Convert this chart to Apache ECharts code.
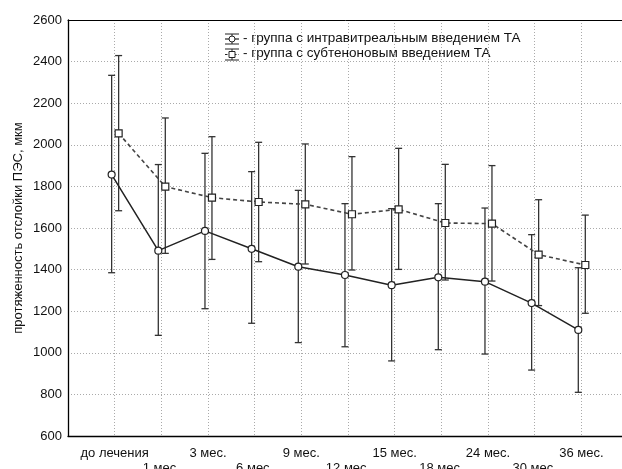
<!DOCTYPE html>
<html>
<head>
<meta charset="utf-8">
<script src="https://cdn.jsdelivr.net/npm/echarts@6/dist/echarts.min.js"></script>
<style>
html,body{margin:0;padding:0;background:#fff;}
#chart{width:622px;height:469px;}
</style>
</head>
<body>
<div id="chart"></div>
<script>
var categories = ['до лечения','1 мес.','3 мес.','6 мес.','9 мес.','12 мес.','15 мес.','18 мес.','24 мес.','30 мес.','36 мес.'];
var yTicks = [600, 800, 1000, 1200, 1400, 1600, 1800, 2000, 2200, 2400, 2600];

var intraMean  = [1857, 1491, 1586, 1500, 1414, 1374, 1325, 1363, 1342, 1239, 1110];
var intraUpper = [2334, 1905, 1959, 1871, 1781, 1717, 1693, 1717, 1696, 1568, 1409];
var intraLower = [1385, 1084, 1212, 1142, 1049, 1029,  961, 1015,  994,  917,  810];

var subMean  = [2055, 1799, 1746, 1725, 1714, 1666, 1690, 1624, 1621, 1472, 1422];
var subUpper = [2429, 2129, 2039, 2012, 2004, 1943, 1983, 1906, 1900, 1736, 1662];
var subLower = [1683, 1478, 1449, 1438, 1427, 1398, 1401, 1350, 1345, 1227, 1190];

var legendNames = ['- группа с интравитреальным введением ТА', '- группа с субтеноновым введением ТА'];
var yAxisTitle = 'протяженность отслойки ПЭС, мкм';

var OFF_A = -0.065, OFF_B = 0.085;
var FONT = 'Arial, "Liberation Sans", sans-serif';

function pts(arr, off){ return arr.map(function(v,i){ return [i+1+off, v]; }); }
function bars(lo, hi, off){ return lo.map(function(v,i){ return [i+1+off, v, hi[i]]; }); }

function errRender(params, api){
  var x = api.value(0);
  var p1 = api.coord([x, api.value(1)]);
  var p2 = api.coord([x, api.value(2)]);
  var w = 3.5;
  var st = {stroke:'#333', lineWidth:1.3};
  return {type:'group', children:[
    {type:'line', shape:{x1:p1[0],y1:p1[1],x2:p2[0],y2:p2[1]}, style:st},
    {type:'line', shape:{x1:p1[0]-w,y1:p1[1],x2:p1[0]+w,y2:p1[1]}, style:st},
    {type:'line', shape:{x1:p2[0]-w,y1:p2[1],x2:p2[0]+w,y2:p2[1]}, style:st}
  ]};
}

var chart = echarts.init(document.getElementById('chart'));
var gridStyle = {color:'#aaa', width:1, type:[1,2]};

var lx = 225;
function legendIcon(yTop, yMid, yBot, dashed, symbol){
  var st = {stroke:'#222', lineWidth:1};
  var ch = [
    {type:'line', shape:{x1:lx,y1:yTop,x2:lx+14,y2:yTop}, style:st},
    {type:'line', shape:{x1:lx,y1:yBot,x2:lx+14,y2:yBot}, style:st},
    {type:'line', shape:{x1:lx+7,y1:yTop,x2:lx+7,y2:yBot}, style:st},
    {type:'line', shape:{x1:lx,y1:yMid,x2:lx+14,y2:yMid}, style:{stroke:'#222',lineWidth:1.2, lineDash: dashed?[2.5,2]:null}}
  ];
  if(symbol==='circle') ch.push({type:'circle', shape:{cx:lx+7, cy:yMid, r:3}, style:{fill:'#fff', stroke:'#222', lineWidth:1}});
  else ch.push({type:'rect', shape:{x:lx+4, y:yMid-3, width:6, height:6}, style:{fill:'#fff', stroke:'#222', lineWidth:1}});
  return ch;
}

var option = {
  backgroundColor:'#fff',
  animation:false,
  grid:{left:68, top:20, width:560, height:416, outerBoundsMode:'none', containLabel:false},
  xAxis:[{
    type:'value', min:0, max:12, interval:1,
    axisLine:{show:true, lineStyle:{color:'#000', width:1.3}},
    axisTick:{show:false},
    splitLine:{show:true, lineStyle:gridStyle},
    axisLabel:{
      show:true, margin:10, lineHeight:15, fontSize:13, color:'#111', fontFamily:FONT,
      showMinLabel:true, showMaxLabel:false,
      formatter:function(v){
        var i = Math.round(v) - 1;
        if(i<0 || i>=categories.length) return '';
        return (i%2===0) ? categories[i] : '\n' + categories[i];
      }
    }
  },{
    type:'value', position:'top', min:0, max:12,
    axisLine:{show:true, onZero:false, lineStyle:{color:'#000', width:1}},
    axisTick:{show:false}, axisLabel:{show:false}, splitLine:{show:false}
  }],
  yAxis:{
    type:'value', min:yTicks[0], max:yTicks[yTicks.length-1], interval:200,
    name:yAxisTitle, nameLocation:'middle', nameGap:43, nameMoveOverlap:false,
    nameTextStyle:{fontSize:13, color:'#111', fontFamily:FONT},
    axisLine:{show:true, lineStyle:{color:'#000', width:1.3}},
    axisTick:{show:false},
    splitLine:{show:true, lineStyle:gridStyle},
    axisLabel:{margin:6, fontSize:13, color:'#111', fontFamily:FONT, formatter:function(v){ return String(v); }}
  },
  graphic:[
    {type:'group', children: legendIcon(34, 39, 44, false, 'circle')},
    {type:'group', children: legendIcon(49, 54.5, 60, true, 'rect')},
    {type:'text', left:243, top:31, style:{text:legendNames[0], font:'13.5px '+FONT, fill:'#111'}},
    {type:'text', left:243, top:46.5, style:{text:legendNames[1], font:'13.5px '+FONT, fill:'#111'}}
  ],
  series:[
    {type:'custom', name:'errA', renderItem:errRender, data:bars(intraLower, intraUpper, OFF_A), encode:{x:0, y:[1,2]}, z:3},
    {type:'custom', name:'errB', renderItem:errRender, data:bars(subLower, subUpper, OFF_B), encode:{x:0, y:[1,2]}, z:3},
    {type:'line', name:legendNames[0], data:pts(intraMean, OFF_A), symbol:'circle', symbolSize:7,
      lineStyle:{color:'#222', width:1.5}, itemStyle:{color:'#fff', borderColor:'#222', borderWidth:1.2}, z:4},
    {type:'line', name:legendNames[1], data:pts(subMean, OFF_B), symbol:'rect', symbolSize:7,
      lineStyle:{color:'#444', width:1.6, type:[4,3]}, itemStyle:{color:'#fff', borderColor:'#222', borderWidth:1.2}, z:4}
  ]
};
chart.setOption(option);
</script>
</body>
</html>
